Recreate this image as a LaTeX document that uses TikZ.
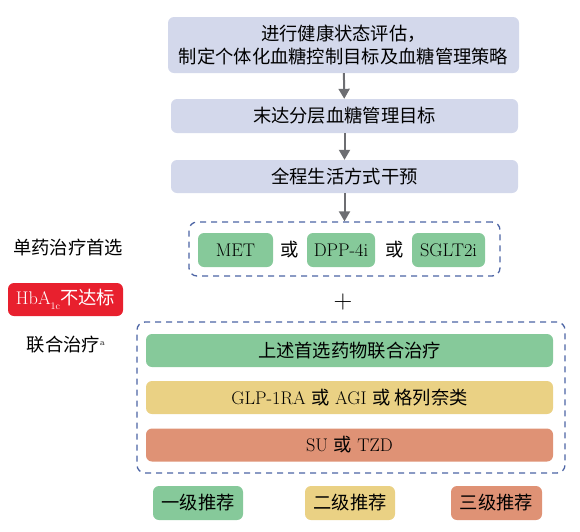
\documentclass[tikz,border=0pt]{standalone}
\usepackage{fontspec}
\newfontfamily\cjk{Noto Sans CJK SC}
\usetikzlibrary{arrows.meta, positioning}
\definecolor{FlowGray}{HTML}{D3D8EB}
\definecolor{ArrowGray}{HTML}{6D6E72}
\definecolor{DashBlue}{HTML}{4C64A4}
\definecolor{RecGreen}{HTML}{86C99A}
\definecolor{RecYellow}{HTML}{EAD184}
\definecolor{RecOrange}{HTML}{DF9275}
\definecolor{AlertRed}{HTML}{E8202E}
\newcommand{\bigtext}{\fontsize{18.3}{23}\selectfont}

\begin{document}
\begin{tikzpicture}[x=1pt, y=-1pt,
    flowbox/.style={fill=FlowGray, rounded corners=6pt, inner sep=0pt, align=center, font=\bigtext\cjk},
    drugbox/.style={fill=RecGreen, rounded corners=6pt, inner sep=0pt, minimum height=34pt, font=\bigtext},
    barbox/.style={rounded corners=6pt, inner sep=0pt, minimum width=407pt, minimum height=33pt, font=\bigtext},
    legendbox/.style={rounded corners=6pt, inner sep=0pt, minimum height=34pt, font=\bigtext\cjk},
    groupbox/.style={draw=DashBlue, line width=1.3pt, dash pattern=on 6pt off 5pt, rounded corners=8pt, inner sep=0pt},
    flowarrow/.style={-{Triangle[length=10pt, width=11pt]}, ArrowGray, line width=2pt}]
    \useasboundingbox (0,0) rectangle (580,531);

    % Flow boxes
    \node[flowbox, minimum width=351pt, minimum height=56pt] (assess) at (343.5,45) {进行健康状态评估，\\制定个体化血糖控制目标及血糖管理策略};
    \node[flowbox, minimum width=347pt, minimum height=34pt] (unmet) at (344.5,116) {末达分层血糖管理目标};
    \node[flowbox, minimum width=347pt, minimum height=33pt] (life) at (344.5,176.5) {全程生活方式干预};

    % Monotherapy
    \node[groupbox, minimum width=311pt, minimum height=54pt] (mono) at (344.5,249) {};
    \node[drugbox, minimum width=75pt] (met) at (235.5,250) {MET};
    \node[font=\bigtext\cjk] (or1) at (290,250) {或};
    \node[drugbox, minimum width=68pt] (dpp) at (341,250) {DPP-4i};
    \node[font=\bigtext\cjk] (or2) at (395,250) {或};
    \node[drugbox, minimum width=73pt] (sglt) at (448.5,250) {SGLT2i};
    \node[font=\fontsize{26}{26}\selectfont] (plus) at (343,302) {+};

    \draw[flowarrow] (assess) -- (unmet);
    \draw[flowarrow] (unmet) -- (life);
    \draw[flowarrow] (life) -- (mono);

    % Left labels
    \node[font=\bigtext\cjk] (monolabel) at (68,248) {单药治疗首选};
    \node[fill=AlertRed, text=white, rounded corners=6pt, inner sep=0pt, minimum width=115pt, minimum height=33pt, font=\bigtext] (hba) at (65.5,299.5) {HbA\raisebox{-5pt}{\fontsize{10}{10}\selectfont 1c}{\cjk 不达标}};
    \node[font=\bigtext] (combolabel) at (66,345) {{\cjk 联合治疗}\textsuperscript{\fontsize{9}{9}\selectfont a}};

    % Combination therapy
    \node[groupbox, minimum width=428pt, minimum height=151pt] (combo) at (351,397.5) {};
    \node[barbox, fill=RecGreen, font=\bigtext\cjk] (first) at (349.5,350.5) {上述首选药物联合治疗};
    \node[barbox, fill=RecYellow] (second) at (349.5,397.5) {GLP-1RA {\cjk 或} AGI {\cjk 或 格列奈类}};
    \node[barbox, fill=RecOrange] (third) at (349.5,445) {SU {\cjk 或} TZD};

    % Legend
    \node[legendbox, fill=RecGreen, minimum width=90pt] (lev1) at (198,503) {一级推荐};
    \node[legendbox, fill=RecYellow, minimum width=90pt] (lev2) at (350,503) {二级推荐};
    \node[legendbox, fill=RecOrange, minimum width=91pt] (lev3) at (496.5,503) {三级推荐};
\end{tikzpicture}
\end{document}
